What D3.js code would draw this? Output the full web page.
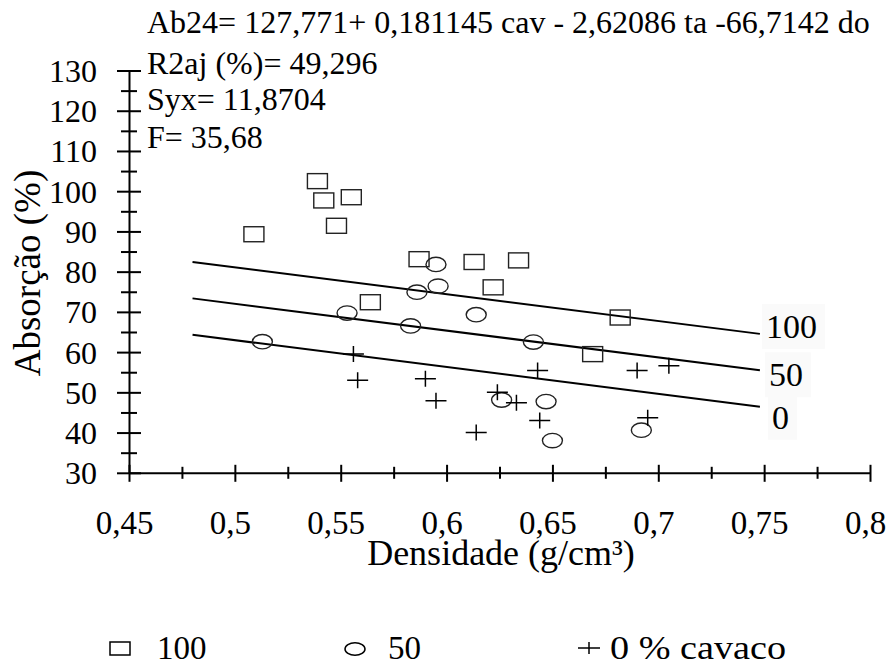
<!DOCTYPE html>
<html>
<head>
<meta charset="utf-8">
<script src="https://cdn.jsdelivr.net/npm/d3@7"></script>
<style>
    html, body { margin: 0; padding: 0; background: #fff; }
    svg { display: block; }
    svg text { font-family: "Liberation Serif", "DejaVu Serif", "Times New Roman", serif; fill: #000; }
</style>
</head>
<body>
<div id="chart"></div>
<script>
// Densidade (g/cm³) x absorção 24h (%), por teor de cavaco
const dens100 = [0.539, 0.542, 0.555, 0.548, 0.509, 0.587, 0.613, 0.634, 0.622, 0.564, 0.682, 0.669];
const abs100  = [102.5, 97.7, 98.5, 91.4, 89.3, 83.1, 82.4, 82.8, 76.1, 72.4, 68.6, 59.5];

const dens50 = [0.595, 0.596, 0.586, 0.553, 0.614, 0.583, 0.513, 0.641, 0.626, 0.647, 0.650, 0.692];
const abs50  = [81.8, 76.4, 74.9, 69.7, 69.3, 66.5, 62.6, 62.5, 48.1, 47.7, 38.0, 40.6];

const dens0 = [0.556, 0.558, 0.590, 0.595, 0.614, 0.624, 0.633, 0.643, 0.644, 0.690, 0.705, 0.695];
const abs0  = [59.5, 53.0, 53.4, 47.9, 40.0, 50.0, 47.4, 55.4, 43.0, 55.4, 56.6, 43.7];

// modelo ajustado (ta fixo)
const b0 = 127.771, bCav = 0.181145, bTa = -2.62086, bDo = -66.7142;
const ta = 12;
const lineCav = [100, 50, 0];
const lineLabels = ["100", "50", "0"];
const lineDens = [0.48, 0.748];

const xTicks = [0.45, 0.5, 0.55, 0.6, 0.65, 0.7, 0.75, 0.8];
const xMinor = [0.475, 0.525, 0.575, 0.625, 0.675, 0.725, 0.775];
const yTicks = [30, 40, 50, 60, 70, 80, 90, 100, 110, 120, 130];
const yMinor = [35, 45, 55, 65, 75, 85, 95, 105, 115, 125];

const statText = [
    "Ab24= 127,771+ 0,181145 cav - 2,62086 ta -66,7142 do",
    "R2aj (%)= 49,296",
    "Syx= 11,8704",
    "F= 35,68"
];
const legendLabels = ["100", "50", "0 % cavaco"];

const width = 893, height = 666;
const serif = "'Liberation Serif', 'DejaVu Serif', 'Times New Roman', serif";

const svg = d3.select("#chart").append("svg")
    .attr("width", width)
    .attr("height", height)
    .attr("font-family", serif);

const x = d3.scaleLinear().domain([0.45, 0.8]).range([129, 870]);
const y = d3.scaleLinear().domain([30, 130]).range([472.8, 70.5]);

const br = d3.formatLocale({ decimal: ",", thousands: ".", grouping: [3], currency: ["R$", ""] });
const fmt = br.format("~g");

// X axis
const gxMinor = svg.append("g")
    .attr("transform", `translate(0,${y(30)})`)
    .call(d3.axisBottom(x).tickValues(xMinor).tickFormat("").tickSize(6).tickSizeOuter(0));
gxMinor.select(".domain").remove();
gxMinor.selectAll("line").attr("y1", -6).attr("stroke", "#000").attr("stroke-width", 2);

const gx = svg.append("g")
    .attr("transform", `translate(0,${y(30)})`)
    .call(d3.axisBottom(x).tickValues(xTicks).tickFormat(fmt).tickSize(9).tickSizeOuter(0))
    .attr("font-family", serif);
gx.select(".domain").attr("stroke", "#000").attr("stroke-width", 2);
gx.selectAll("line").attr("y1", -8).attr("stroke", "#000").attr("stroke-width", 2);
gx.selectAll("text")
    .attr("y", 61).attr("dy", null).attr("dx", -5)
    .attr("fill", "#000")
    .style("font-size", "33px");

// Y axis
const gyMinor = svg.append("g")
    .attr("transform", `translate(${x(0.45)},0)`)
    .call(d3.axisLeft(y).tickValues(yMinor).tickFormat("").tickSize(8).tickSizeOuter(0));
gyMinor.select(".domain").remove();
gyMinor.selectAll("line").attr("x1", 8).attr("stroke", "#000").attr("stroke-width", 2);

const gy = svg.append("g")
    .attr("transform", `translate(${x(0.45)},0)`)
    .call(d3.axisLeft(y).tickValues(yTicks).tickFormat(fmt).tickSize(12).tickSizeOuter(0))
    .attr("font-family", serif);
gy.select(".domain").attr("stroke", "#000").attr("stroke-width", 2);
gy.selectAll("line").attr("x1", 12).attr("stroke", "#000").attr("stroke-width", 2);
gy.selectAll("text")
    .attr("x", -32).attr("dy", "0.34em")
    .attr("fill", "#000")
    .style("font-size", "32px");

// Axis titles
svg.append("text")
    .attr("x", 501).attr("y", 565)
    .attr("text-anchor", "middle")
    .style("font-size", "36px")
    .text("Densidade (g/cm³)");

svg.append("text")
    .attr("transform", "translate(40,273) rotate(-90)")
    .attr("text-anchor", "middle")
    .style("font-size", "37px")
    .text("Absorção (%)");

// Model lines
const fit = (cav, d) => b0 + bCav * cav + bTa * ta + bDo * d;
const line = d3.line()
    .x(d => x(d.d))
    .y(d => y(d.v));

const labelDy = [4, 16, 22];
lineCav.forEach((cav, i) => {
    const pts = lineDens.map(d => ({ d: d, v: fit(cav, d) }));
    svg.append("path")
        .datum(pts)
        .attr("fill", "none")
        .attr("stroke", "#000")
        .attr("stroke-width", 2)
        .attr("d", line);

    const end = pts[pts.length - 1];
    const lx = x(end.d) + 6 + i * 3;
    const ly = y(end.v) + labelDy[i];
    const bg = svg.append("rect").attr("fill", "#fafafa");
    const t = svg.append("text")
        .attr("x", lx).attr("y", ly)
        .style("font-size", "34px")
        .text(lineLabels[i]);
    const bb = t.node().getBBox();
    bg.attr("x", bb.x - 4).attr("y", bb.y - 4)
        .attr("width", bb.width + 12).attr("height", bb.height + 8);
});

// Markers
const group = (ds, vs) => ds.map((d, i) => ({ d: d, v: vs[i] }));

svg.append("g").selectAll("rect")
    .data(group(dens100, abs100))
    .join("rect")
    .attr("x", d => x(d.d) - 10)
    .attr("y", d => y(d.v) - 7.5)
    .attr("width", 20).attr("height", 15)
    .attr("fill", "none")
    .attr("stroke", "#222")
    .attr("stroke-width", 1.4);

svg.append("g").selectAll("ellipse")
    .data(group(dens50, abs50))
    .join("ellipse")
    .attr("cx", d => x(d.d))
    .attr("cy", d => y(d.v))
    .attr("rx", 10).attr("ry", 7.2)
    .attr("fill", "none")
    .attr("stroke", "#222")
    .attr("stroke-width", 1.4);

svg.append("g").selectAll("path")
    .data(group(dens0, abs0))
    .join("path")
    .attr("d", d => {
        const cx = x(d.d), cy = y(d.v);
        return `M${cx - 10.5},${cy}H${cx + 10.5}M${cx},${cy - 8}V${cy + 8}`;
    })
    .attr("fill", "none")
    .attr("stroke", "#000")
    .attr("stroke-width", 1.5);

// Stats text
svg.append("g").selectAll("text")
    .data(statText)
    .join("text")
    .attr("x", 147)
    .attr("y", (d, i) => [33, 74, 110, 148][i])
    .style("font-size", "32px")
    .text(d => d);

// Legend
const lg = svg.append("g");
lg.append("rect")
    .attr("x", 110).attr("y", 642).attr("width", 20).attr("height", 13)
    .attr("fill", "none").attr("stroke", "#000").attr("stroke-width", 1.5);
lg.append("ellipse")
    .attr("cx", 355).attr("cy", 649).attr("rx", 10).attr("ry", 6.3)
    .attr("fill", "none").attr("stroke", "#000").attr("stroke-width", 1.5);
lg.append("path")
    .attr("d", "M578,648H600M589,642V654")
    .attr("stroke", "#000").attr("stroke-width", 1.5);
lg.selectAll("text")
    .data(legendLabels)
    .join("text")
    .attr("x", (d, i) => [157, 388, 610][i])
    .attr("y", 658.5)
    .attr("textLength", (d, i) => i === 2 ? 176 : null)
    .attr("lengthAdjust", "spacingAndGlyphs")
    .style("font-size", "33px")
    .text(d => d);
</script>
</body>
</html>
